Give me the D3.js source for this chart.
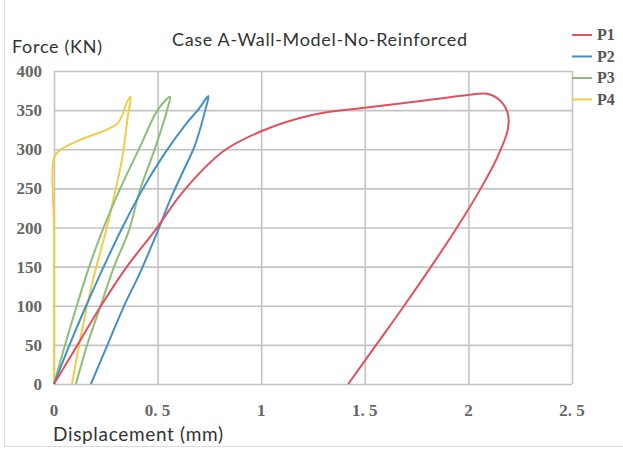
<!DOCTYPE html>
<html>
<head>
<meta charset="utf-8">
<script src="https://cdn.jsdelivr.net/npm/d3@7"></script>
<style>
    body { margin: 0; background: #fff; }
    .tick-label { font-family: 'Liberation Serif', serif; font-weight: bold; font-size: 17px; fill: #666; }
    .title { font-family: Lato, 'Open Sans', sans-serif; font-size: 18px; fill: #333; }
    .legend-label { font-family: 'Liberation Serif', serif; font-weight: bold; font-size: 16px; fill: #555; }
</style>
</head>
<body>
<div id="vis"></div>
<script>
// Series: displacement (mm) and force (KN), in drawing order
var p1Disp = [0, 0.114, 0.227, 0.352, 0.49, 0.62, 0.82, 1.0, 1.25, 1.50, 1.75, 1.99, 2.09, 2.15, 2.19, 2.19, 2.14, 2.06, 1.945, 1.82, 1.69, 1.555, 1.42];
var p1Force = [0, 50, 100, 150, 197, 245, 298, 323, 344, 353, 361, 369, 371, 363, 346, 325, 290, 250, 200, 150, 100, 50, 0];

var p2Disp = [0, 0.075, 0.155, 0.24, 0.33, 0.43, 0.535, 0.63, 0.70, 0.745, 0.73, 0.68, 0.62, 0.56, 0.50, 0.42, 0.335, 0.255, 0.178];
var p2Force = [0, 50, 100, 150, 200, 250, 295, 330, 352, 368, 350, 305, 270, 235, 195, 145, 98, 48, 0];

var p3Disp = [0, 0.05, 0.11, 0.17, 0.235, 0.32, 0.415, 0.50, 0.56, 0.55, 0.49, 0.415, 0.36, 0.29, 0.225, 0.16, 0.106];
var p3Force = [0, 47, 100, 150, 197, 250, 303, 350, 367, 354, 303, 248, 195, 150, 100, 50, 0];

var p4Disp = [0, 0, 0, 0, 0.03, 0.125, 0.255, 0.31, 0.33, 0.35, 0.37, 0.355, 0.33, 0.29, 0.25, 0.19, 0.14, 0.087];
var p4Force = [0, 100, 200, 289, 299, 312, 325, 334, 344, 359, 367, 340, 290, 240, 195, 135, 75, 0];

var seriesNames = ['P1', 'P2', 'P3', 'P4'];
var seriesColors = ['#e2505f', '#4390c6', '#8dbd79', '#f0cd48'];

var xTicks = [0, 0.5, 1, 1.5, 2, 2.5];
var xTickLabels = ['0', '0. 5', '1', '1. 5', '2', '2. 5'];
var yTicks = [0, 50, 100, 150, 200, 250, 300, 350, 400];

// Overall size and margins of the plot box
var width = 623;
var height = 449;
var margin = { left: 54, top: 71, right: 51, bottom: 65 };
var drawWidth = width - margin.left - margin.right;
var drawHeight = height - margin.top - margin.bottom;

var svg = d3.select('#vis')
    .append('svg')
    .attr('width', width)
    .attr('height', height);

// faint frame of the original figure
svg.append('rect')
    .attr('x', 4.5)
    .attr('y', -3)
    .attr('width', width + 10)
    .attr('height', 449.5)
    .attr('fill', 'none')
    .attr('stroke', '#dcdcdc');

var g = svg.append('g')
    .attr('transform', 'translate(' + margin.left + ',' + margin.top + ')');

var xScale = d3.scaleLinear().domain([0, 2.5]).range([0, drawWidth]);
var yScale = d3.scaleLinear().domain([0, 400]).range([drawHeight, 0]);

// Gridlines (with the box drawn by the end lines)
var yAxis = d3.axisLeft(yScale)
    .tickValues(yTicks)
    .tickSize(-drawWidth)
    .tickFormat('');
var xAxis = d3.axisBottom(xScale)
    .tickValues(xTicks)
    .tickSize(-drawHeight)
    .tickFormat('');

var yGrid = g.append('g').call(yAxis);
var xGrid = g.append('g').attr('transform', 'translate(0,' + drawHeight + ')').call(xAxis);
[yGrid, xGrid].forEach(function (a) {
    a.select('.domain').remove();
    a.selectAll('.tick line').attr('stroke', '#c4c4c4').attr('stroke-width', 1.6);
});

// Tick labels
g.selectAll('.ylab')
    .data(yTicks)
    .enter().append('text')
    .attr('class', 'tick-label')
    .attr('x', -12)
    .attr('y', function (d) { return yScale(d) + 6; })
    .attr('text-anchor', 'end')
    .text(function (d) { return d; });

g.selectAll('.xlab')
    .data(xTicks)
    .enter().append('text')
    .attr('class', 'tick-label')
    .attr('x', function (d) { return xScale(d); })
    .attr('y', drawHeight + 32)
    .attr('text-anchor', 'middle')
    .text(function (d, i) { return xTickLabels[i]; });

// Curves
var line = d3.line()
    .x(function (d) { return xScale(d[0]); })
    .y(function (d) { return yScale(d[1]); })
    .curve(d3.curveCatmullRom.alpha(0.5));

var allDisp = [p1Disp, p2Disp, p3Disp, p4Disp];
var allForce = [p1Force, p2Force, p3Force, p4Force];

// draw in reverse so P1 ends on top
for (var s = 3; s >= 0; s--) {
    var pts = d3.zip(allDisp[s], allForce[s]);
    g.append('path')
        .datum(pts)
        .attr('d', line)
        .attr('fill', 'none')
        .attr('stroke', seriesColors[s])
        .attr('stroke-width', 2)
        .attr('stroke-linejoin', 'round');
}

// Titles
svg.append('text')
    .attr('class', 'title')
    .attr('x', 172)
    .attr('y', 46)
    .attr('textLength', 295)
    .text('Case A-Wall-Model-No-Reinforced');

svg.append('text')
    .attr('class', 'title')
    .attr('x', 12)
    .attr('y', 53)
    .attr('textLength', 90)
    .text('Force (KN)');

svg.append('text')
    .attr('class', 'title')
    .style('font-size', '19px')
    .attr('x', 53)
    .attr('y', 441)
    .attr('textLength', 170)
    .text('Displacement (mm)');

// Legend
var legend = svg.selectAll('.legend')
    .data(seriesNames)
    .enter().append('g')
    .attr('transform', function (d, i) { return 'translate(572,' + (35 + i * 21.5) + ')'; });

legend.append('line')
    .attr('x1', 0).attr('x2', 20)
    .attr('stroke', function (d, i) { return seriesColors[i]; })
    .attr('stroke-width', 2);

legend.append('text')
    .attr('class', 'legend-label')
    .attr('x', 25)
    .attr('y', 5)
    .text(function (d) { return d; });
</script>
</body>
</html>
